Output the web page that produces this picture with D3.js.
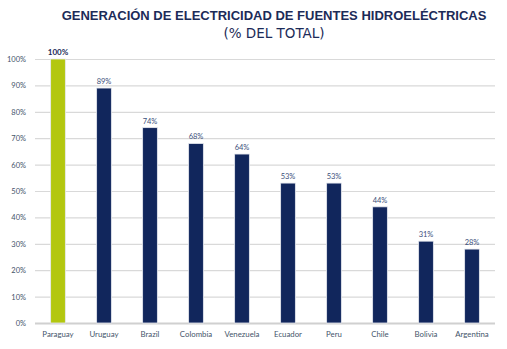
<!DOCTYPE html>
<html><head><meta charset="utf-8">
<script src="https://cdn.jsdelivr.net/npm/d3@7"></script>
<style>body{margin:0;background:#fff}svg{display:block}</style>
</head><body>
<svg id="c" width="507" height="349"></svg>
<script>
const categories = ["Paraguay","Uruguay","Brazil","Colombia","Venezuela","Ecuador","Peru","Chile","Bolivia","Argentina"];
const values = [100, 89, 74, 68, 64, 53, 53, 44, 31, 28];
const valueLabels = ["100%","89%","74%","68%","64%","53%","53%","44%","31%","28%"];
const yTicks = [0,10,20,30,40,50,60,70,80,90,100];
const title = "GENERACIÓN DE ELECTRICIDAD DE FUENTES HIDROELÉCTRICAS";
const subtitle = "(% DEL TOTAL)";

const svg = d3.select("#c");
const m = {left:35, right:12, top:59, bottom:26};
const W = 507, H = 349;
const x = d3.scaleBand().domain(categories).range([m.left, W-m.right]).paddingInner(0.68).paddingOuter(0.34);
const y = d3.scaleLinear().domain([0,100]).range([H-m.bottom, m.top]);
const font = "Lato, 'DejaVu Sans', sans-serif";

svg.append("text").attr("x",274).attr("y",20).attr("text-anchor","middle")
  .attr("font-family","'Liberation Sans', Arial, sans-serif").attr("font-weight","bold").attr("font-size",13)
  .attr("fill","#1c2b58").text(title);
svg.append("text").attr("x",274).attr("y",38).attr("text-anchor","middle")
  .attr("font-family","'DejaVu Sans', sans-serif").attr("font-size",13.5)
  .attr("fill","#1c2b58").text(subtitle);

// gridlines
const yAxis = d3.axisLeft(y).tickValues(yTicks).tickFormat(d=>d+"%").tickSize(-(W-m.left-m.right)).tickPadding(9);
const g = svg.append("g").attr("transform",`translate(${m.left},0)`).call(yAxis);
g.select(".domain").remove();
g.selectAll(".tick line").attr("stroke","#d9d9d9").attr("stroke-width",1.2);
g.selectAll(".tick text").attr("font-family",font).attr("font-size",7.5).attr("fill","#44546a");
g.selectAll(".tick").filter(d=>d===0).select("line").attr("stroke","#d0d0d0").attr("stroke-width",2);

// bars
svg.append("g").selectAll("rect").data(values).join("rect")
  .attr("x",(d,i)=>x(categories[i]))
  .attr("width",x.bandwidth())
  .attr("y",d=>y(d))
  .attr("height",d=>y(0)-y(d))
  .attr("fill",(d,i)=>i===0?"#b3c70f":"#11265c")
  .attr("stroke","#e6e9f0").attr("stroke-width",0.8);

// value labels
svg.append("g").selectAll("text").data(values).join("text")
  .attr("x",(d,i)=>x(categories[i])+x.bandwidth()/2)
  .attr("y",d=>y(d)-4)
  .attr("text-anchor","middle")
  .attr("font-family",font)
  .attr("font-size",(d,i)=>i===0?8:7.5)
  .attr("font-weight",(d,i)=>i===0?"bold":"normal")
  .attr("fill",(d,i)=>i===0?"#1c2b58":"#3b4f7a")
  .text((d,i)=>valueLabels[i]);

// x axis
const xAxis = d3.axisBottom(x).tickSize(0).tickPadding(8);
const gx = svg.append("g").attr("transform",`translate(0,${y(0)})`).call(xAxis);
gx.select(".domain").remove();
gx.selectAll(".tick text").attr("font-family",font).attr("font-size",7.8).attr("fill","#44546a");
</script>
</body></html>
